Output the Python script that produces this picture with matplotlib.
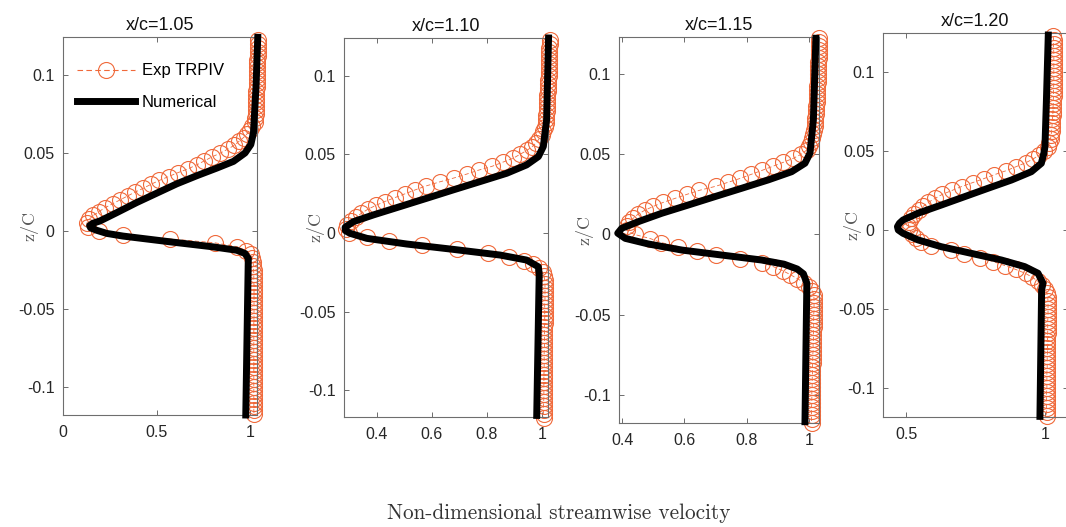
import matplotlib
matplotlib.use('Agg')
import matplotlib.pyplot as plt
from matplotlib.lines import Line2D

plt.rcParams['font.family'] = ['Liberation Sans', 'DejaVu Sans']
plt.rcParams['axes.unicode_minus'] = False

ORANGE = '#f0693a'

# TRPIV measurement heights (z/C), shared by all stations
z_exp = [0.1225, 0.12, 0.1175, 0.115, 0.1125, 0.11, 0.1075, 0.105, 0.1025, 0.1,
         0.0975, 0.095, 0.0925, 0.09, 0.0875, 0.085, 0.0825, 0.08, 0.0775, 0.075,
         0.0725, 0.07, 0.0675, 0.065, 0.0625, 0.06, 0.0575, 0.055, 0.0525, 0.05,
         0.0475, 0.045, 0.0425, 0.04, 0.0375, 0.035, 0.0325, 0.03, 0.0275, 0.025,
         0.0225, 0.02, 0.0175, 0.015, 0.0125, 0.01, 0.0075, 0.005, 0.0025, 0.0,
         -0.0025, -0.005, -0.0075, -0.01, -0.0125, -0.015, -0.0175, -0.02, -0.0225, -0.025,
         -0.0275, -0.03, -0.0325, -0.035, -0.0375, -0.04, -0.0425, -0.045, -0.0475, -0.05,
         -0.0525, -0.055, -0.0575, -0.06, -0.0625, -0.065, -0.0675, -0.07, -0.0725, -0.075,
         -0.0775, -0.08, -0.0825, -0.085, -0.0875, -0.09, -0.0925, -0.095, -0.0975, -0.1,
         -0.1025, -0.105, -0.1075, -0.11, -0.1125, -0.115, -0.1175]

u_exp_105 = [1.042, 1.041, 1.041, 1.040, 1.040, 1.039, 1.039, 1.038, 1.038, 1.037,
             1.036, 1.036, 1.035, 1.034, 1.034, 1.033, 1.032, 1.031, 1.030, 1.029,
             1.027, 1.025, 1.012, 1.000, 0.985, 0.965, 0.940, 0.915, 0.880, 0.840,
             0.795, 0.755, 0.715, 0.670, 0.615, 0.565, 0.515, 0.470, 0.430, 0.385,
             0.345, 0.305, 0.265, 0.225, 0.192, 0.162, 0.140, 0.127, 0.135, 0.190,
             0.320, 0.570, 0.810, 0.930, 0.980, 1.003, 1.012, 1.016, 1.018, 1.019,
             1.020, 1.020, 1.020, 1.021, 1.021, 1.021, 1.021, 1.021, 1.021, 1.021,
             1.021, 1.021, 1.020, 1.020, 1.020, 1.020, 1.020, 1.020, 1.020, 1.020,
             1.020, 1.020, 1.020, 1.020, 1.020, 1.020, 1.020, 1.020, 1.020, 1.020,
             1.020, 1.020, 1.020, 1.020, 1.020, 1.020, 1.021]

u_exp_110 = [1.028, 1.028, 1.027, 1.027, 1.026, 1.026, 1.025, 1.025, 1.024, 1.024,
             1.023, 1.022, 1.022, 1.021, 1.020, 1.020, 1.019, 1.018, 1.017, 1.016,
             1.015, 1.014, 1.010, 1.005, 1.000, 0.990, 0.980, 0.965, 0.945, 0.920,
             0.895, 0.857, 0.820, 0.770, 0.727, 0.680, 0.628, 0.580, 0.540, 0.503,
             0.465, 0.428, 0.395, 0.366, 0.343, 0.324, 0.305, 0.292, 0.287, 0.300,
             0.365, 0.445, 0.563, 0.690, 0.805, 0.880, 0.935, 0.967, 0.990, 1.002,
             1.008, 1.010, 1.011, 1.011, 1.011, 1.011, 1.011, 1.010, 1.010, 1.010,
             1.010, 1.010, 1.010, 1.009, 1.009, 1.009, 1.009, 1.009, 1.009, 1.008,
             1.008, 1.008, 1.008, 1.008, 1.008, 1.007, 1.007, 1.007, 1.007, 1.007,
             1.007, 1.007, 1.006, 1.006, 1.006, 1.006, 1.006]

u_exp_115 = [1.033, 1.033, 1.032, 1.032, 1.031, 1.031, 1.030, 1.030, 1.029, 1.029,
             1.028, 1.028, 1.027, 1.026, 1.026, 1.025, 1.024, 1.023, 1.022, 1.021,
             1.020, 1.020, 1.018, 1.015, 1.013, 1.010, 1.007, 1.000, 0.992, 0.975,
             0.950, 0.918, 0.884, 0.850, 0.815, 0.780, 0.740, 0.700, 0.648, 0.608,
             0.570, 0.532, 0.500, 0.472, 0.450, 0.435, 0.422, 0.416, 0.415, 0.440,
             0.490, 0.525, 0.580, 0.640, 0.700, 0.780, 0.850, 0.885, 0.915, 0.940,
             0.962, 0.985, 1.000, 1.010, 1.015, 1.016, 1.016, 1.016, 1.016, 1.015,
             1.015, 1.015, 1.015, 1.014, 1.014, 1.014, 1.013, 1.013, 1.013, 1.012,
             1.012, 1.012, 1.011, 1.011, 1.011, 1.010, 1.010, 1.010, 1.009, 1.009,
             1.009, 1.009, 1.008, 1.008, 1.008, 1.008, 1.008]

u_exp_120 = [1.030, 1.031, 1.031, 1.031, 1.032, 1.032, 1.032, 1.032, 1.032, 1.032,
             1.032, 1.032, 1.032, 1.031, 1.031, 1.031, 1.030, 1.030, 1.029, 1.029,
             1.028, 1.027, 1.026, 1.025, 1.024, 1.022, 1.020, 1.016, 1.010, 0.995,
             0.980, 0.958, 0.930, 0.895, 0.860, 0.818, 0.780, 0.740, 0.700, 0.665,
             0.630, 0.605, 0.580, 0.562, 0.545, 0.528, 0.517, 0.510, 0.508, 0.512,
             0.522, 0.535, 0.555, 0.590, 0.660, 0.710, 0.765, 0.814, 0.855, 0.895,
             0.930, 0.955, 0.975, 0.990, 1.000, 1.007, 1.010, 1.011, 1.011, 1.011,
             1.011, 1.011, 1.010, 1.010, 1.010, 1.010, 1.009, 1.009, 1.009, 1.009,
             1.009, 1.008, 1.008, 1.008, 1.008, 1.007, 1.007, 1.007, 1.007, 1.007,
             1.006, 1.006, 1.006, 1.006, 1.006, 1.006, 1.006]

# numerical wake profiles
z_num_105 = [0.1243, 0.093, 0.063, 0.0555, 0.0501, 0.0447, 0.0404, 0.0355, 0.0303, 0.0243,
             0.0183, 0.0118, 0.0065, 0.005, 0.0035, 0.002, 0.0005, -0.0015, -0.0032, -0.0069,
             -0.0101, -0.0123, -0.0144, -0.0176, -0.0208, -0.118]
u_num_105 = [1.041, 1.032, 1.018, 1.004, 0.973, 0.911, 0.822, 0.715, 0.608, 0.501,
             0.394, 0.287, 0.198, 0.160, 0.142, 0.148, 0.180, 0.234, 0.320, 0.572,
             0.800, 0.929, 0.973, 0.991, 0.990, 0.977]

z_num_110 = [0.124, 0.072, 0.055, 0.0486, 0.0433, 0.038, 0.0327, 0.0274, 0.0221, 0.0168,
             0.0115, 0.0072, 0.0036, 0.0015, -0.0002, -0.0034, -0.007, -0.0104, -0.014, -0.0172,
             -0.0215, -0.026, -0.116]
u_num_110 = [1.024, 1.017, 1.005, 0.987, 0.944, 0.872, 0.775, 0.677, 0.581, 0.484,
             0.387, 0.314, 0.284, 0.285, 0.302, 0.363, 0.508, 0.677, 0.847, 0.944,
             0.987, 0.990, 0.981]

z_num_115 = [0.1222, 0.0713, 0.0506, 0.0444, 0.0391, 0.034, 0.0288, 0.0236, 0.0184, 0.0132,
             0.008, 0.0039, 0.0008, -0.0024, -0.0059, -0.0097, -0.0128, -0.0159, -0.0185, -0.0215,
             -0.0245, -0.0304, -0.1166]
u_num_115 = [1.022, 1.014, 1.003, 0.987, 0.944, 0.869, 0.784, 0.698, 0.613, 0.527,
             0.452, 0.399, 0.386, 0.410, 0.484, 0.592, 0.720, 0.848, 0.920, 0.962,
             0.982, 0.993, 0.987]

z_num_120 = [0.1234, 0.0802, 0.0527, 0.0485, 0.0422, 0.0369, 0.0316, 0.0264, 0.0211, 0.0158,
             0.0106, 0.0063, 0.0042, 0.0021, 0.0, -0.0021, -0.0063, -0.0106, -0.0148, -0.019,
             -0.0232, -0.0274, -0.0337, -0.038, -0.118]
u_num_120 = [1.012, 1.005, 1.000, 0.996, 0.987, 0.951, 0.879, 0.795, 0.711, 0.627,
             0.543, 0.489, 0.476, 0.469, 0.472, 0.489, 0.543, 0.627, 0.735, 0.843,
             0.927, 0.975, 0.993, 0.988, 0.982]

stations = ['x/c=1.05', 'x/c=1.10', 'x/c=1.15', 'x/c=1.20']
xtick_vals = [[0, 0.5, 1], [0.4, 0.6, 0.8, 1], [0.4, 0.6, 0.8, 1], [0.5, 1]]
xtick_text = [['0', '0.5', '1'], ['0.4', '0.6', '0.8', '1'],
              ['0.4', '0.6', '0.8', '1'], ['0.5', '1']]
ytick_vals = [-0.1, -0.05, 0, 0.05, 0.1]
ytick_text = ['-0.1', '-0.05', '0', '0.05', '0.1']

exp_sets = [u_exp_105, u_exp_110, u_exp_115, u_exp_120]
num_sets = [(z_num_105, u_num_105), (z_num_110, u_num_110),
            (z_num_115, u_num_115), (z_num_120, u_num_120)]

# axes boxes in pixels: left, top, right, bottom
W, H = 1066, 527
boxes = [(63, 37, 257, 415), (344, 38, 548, 417), (619, 37, 819, 423), (883, 33, 1068, 417)]
xlims = [(0, 1.037), (0.28, 1.022), (0.39, 1.032), (0.417, 1.083)]
ylims = [(-0.118, 0.1245), (-0.117, 0.124), (-0.1174, 0.123), (-0.1184, 0.1247)]
zlabel_x = [-0.17, -0.142, -0.17, -0.162]

fig = plt.figure(figsize=(W / 100, H / 100), dpi=100)

for i in range(4):
    l, t, r, b = boxes[i]
    ax = fig.add_axes([l / W, 1 - b / H, (r - l) / W, (b - t) / H])
    ax.plot(exp_sets[i], z_exp, linestyle='--', dashes=(5, 3), lw=0.6, color=ORANGE,
            marker='o', ms=11.5, mfc='none', mec=ORANGE, mew=0.8, clip_on=False, zorder=2)
    zn, un = num_sets[i]
    ax.plot(un, zn, color='k', lw=5.0, clip_on=False, zorder=3)

    ax.set_xlim(*xlims[i])
    ax.set_ylim(*ylims[i])
    ax.set_xticks(xtick_vals[i])
    ax.set_xticklabels(xtick_text[i])
    ax.set_yticks(ytick_vals)
    ax.set_yticklabels(ytick_text)
    ax.tick_params(direction='in', top=True, right=True, length=3.5, width=0.6,
                   color='#555555', labelcolor='#262626', labelsize=11.5)
    ax.tick_params(axis='x', pad=7)
    ax.tick_params(axis='y', pad=6)
    for s in ax.spines.values():
        s.set_color('#6e6e6e')
        s.set_linewidth(0.8)
    ax.set_title(stations[i], fontsize=13, pad=5, color='#111111')
    ax.text(zlabel_x[i], 0.5, 'z/C', transform=ax.transAxes, rotation=90,
            ha='center', va='center', family='cmr10', fontsize=13, color='#555555')

    if i == 0:
        handles = [Line2D([], [], linestyle='--', dashes=(5, 3), lw=0.8, color=ORANGE,
                          marker='o', ms=11.5, mfc='none', mec=ORANGE, mew=0.8),
                   Line2D([], [], color='k', lw=5.0)]
        ax.legend(handles, ['Exp TRPIV', 'Numerical'], loc='upper left',
                  bbox_to_anchor=(0.07, 0.93), frameon=False, fontsize=12,
                  handlelength=3.5, handletextpad=0.4, labelspacing=1.0,
                  borderaxespad=0, borderpad=0)

fig.text(559 / W, 1 - 513 / H, 'Non-dimensional streamwise velocity',
         ha='center', va='center', family='cmr10', fontsize=15.3, color='#333333')

fig.savefig('out.png', dpi=100)
